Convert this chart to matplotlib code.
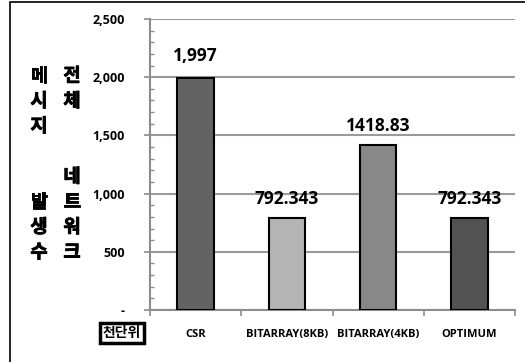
import matplotlib.pyplot as plt
import matplotlib.patheffects as pe
from matplotlib.patches import Rectangle
from matplotlib.ticker import FuncFormatter, MultipleLocator

plt.rcParams['font.family'] = ['Open Sans', 'Noto Sans CJK KR', 'DejaVu Sans']
plt.rcParams['font.weight'] = 'bold'

# 항목별 메시지 발생수 (천단위)
categories = ['CSR', 'BITARRAY(8KB)', 'BITARRAY(4KB)', 'OPTIMUM']
values = [1997, 792.343, 1418.83, 792.343]
value_labels = [f'{values[0]:,}'] + [str(v) for v in values[1:]]
bar_colors = ['#636363', '#b4b4b4', '#888888', '#535353']
label_offsets = [9, 7, 7, 7]

left_title = '메시지  발생수'
right_title = '전체  네트워크'
unit_label = '천단위'

korean = ['Noto Sans CJK KR', 'DejaVu Sans']

fig = plt.figure(figsize=(5.25, 3.62), dpi=100)
ax = fig.add_axes([150 / 525, 52 / 362, 365 / 525, 291 / 362])

x = range(len(categories))
ax.bar(x, values, width=0.4, color=bar_colors, edgecolor='black', linewidth=1.5, zorder=3)

for i, v in enumerate(values):
    ax.annotate(value_labels[i], (i, v), xytext=(0, label_offsets[i]), textcoords='offset points',
                ha='center', va='bottom', fontsize=12.5, fontweight='bold')

ax.set_xlim(-0.5, len(categories) - 0.5)
ax.set_ylim(0, 2500)

ax.yaxis.set_major_locator(MultipleLocator(500))
ax.yaxis.set_minor_locator(MultipleLocator(100))
ax.yaxis.set_major_formatter(FuncFormatter(lambda v, p: '-' if v == 0 else f'{int(v):,}'))
ax.tick_params(axis='y', which='major', direction='out', length=4, width=1.2, color='#8c8c8c',
               labelsize=9, pad=14)
ax.tick_params(axis='y', which='minor', direction='in', length=3, width=1, color='#8c8c8c')

ax.set_xticks(list(x))
ax.set_xticklabels(categories, fontsize=8, fontweight='bold')
ax.set_xticks([i + 0.5 for i in range(-1, len(categories))], minor=True)
ax.tick_params(axis='x', which='major', length=0, pad=14)
ax.tick_params(axis='x', which='minor', direction='out', length=4, width=1.2, color='#8c8c8c')

ax.grid(axis='y', which='major', color='#9a9a9a', linewidth=1.5, zorder=0)
for side in ['top', 'right']:
    ax.spines[side].set_visible(False)
for side in ['left', 'bottom']:
    ax.spines[side].set_color('#8c8c8c')
    ax.spines[side].set_linewidth(1.5)

# 세로 축 제목 (두 줄)
for col_x, title in [(39, left_title), (72, right_title)]:
    for k, ch in enumerate(title):
        fig.text(col_x / 525, 1 - (76 + 25.2 * k) / 362, ch, ha='center', va='center',
                 fontsize=13.5, fontweight='bold', family=korean,
                 path_effects=[pe.withStroke(linewidth=0.6, foreground='black')])

fig.text(122 / 525, 1 - 333 / 362, unit_label, ha='center', va='center', fontsize=10,
         fontweight='bold', family=korean,
         bbox=dict(boxstyle='square,pad=0.2', facecolor='white', edgecolor='black', linewidth=2.5))

# 바깥 테두리
fig.add_artist(Rectangle((10 / 525, -0.1), 1.2, 1.1 - 2.5 / 362, transform=fig.transFigure,
                         fill=False, edgecolor='black', linewidth=1.2))

fig.savefig('out.png', dpi=100)
